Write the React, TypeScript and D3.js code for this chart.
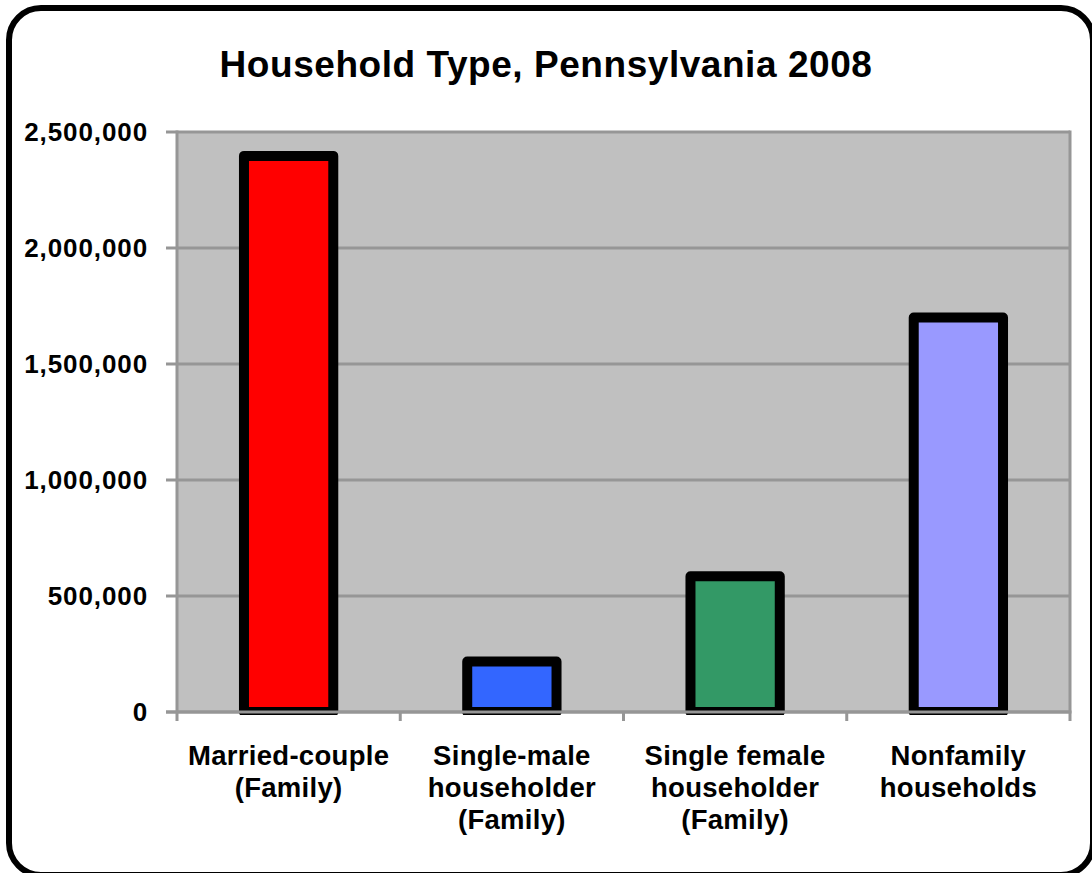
import React from "react";
import * as d3 from "d3";

const TITLE = "Household Type, Pennsylvania 2008";
const categories: string[][] = [
  ["Married-couple", "(Family)"],
  ["Single-male", "householder", "(Family)"],
  ["Single female", "householder", "(Family)"],
  ["Nonfamily", "households"],
];
const values: number[] = [2397000, 218000, 585000, 1700000];
const barColors: string[] = ["#FF0000", "#3366FF", "#339966", "#9999FF"];
const yTicks: number[] = [0, 500000, 1000000, 1500000, 2000000, 2500000];

const W = 1092;
const H = 873;
const plot = { left: 177, right: 1070, top: 132, bottom: 712 };

export default function App() {
  const x = d3
    .scaleBand<number>()
    .domain(categories.map((_, i) => i))
    .range([plot.left, plot.right])
    .paddingInner(0.6)
    .paddingOuter(0.3);
  const band = (plot.right - plot.left) / categories.length;
  const y = d3.scaleLinear().domain([0, 2500000]).range([plot.bottom, plot.top]);
  const fmt = d3.format(",");
  const grid = "#969696";
  const font = "'Liberation Sans', Arial, sans-serif";

  return (
    <div style={{ position: "absolute", left: 0, top: 0 }}>
      <svg width={W} height={H} style={{ display: "block", overflow: "hidden" }}>
        <defs>
          <clipPath id="plotclip">
            <rect x={plot.left} y={0} width={plot.right - plot.left} height={plot.bottom + 3} />
          </clipPath>
        </defs>
        <rect x={0} y={0} width={W} height={H} fill="#ffffff" />
        <rect
          x={9}
          y={8}
          width={1084}
          height={867}
          rx={32}
          ry={32}
          fill="#ffffff"
          stroke="#000000"
          strokeWidth={6}
        />
        <text
          x={546}
          y={77}
          textAnchor="middle"
          fontFamily={font}
          fontWeight="bold"
          fontSize={37}
          letterSpacing={0.55}
          fill="#000"
        >
          {TITLE}
        </text>
        {/* plot area */}
        <rect
          x={plot.left}
          y={plot.top}
          width={plot.right - plot.left}
          height={plot.bottom - plot.top}
          fill="#C0C0C0"
        />
        {yTicks.map((t) => (
          <g key={t}>
            <line x1={166} x2={plot.right} y1={y(t)} y2={y(t)} stroke={grid} strokeWidth={3} />
            <text
              x={148}
              y={y(t) + 9}
              textAnchor="end"
              fontFamily={font}
              fontWeight="bold"
              fontSize={26}
              letterSpacing={0.9}
              fill="#000"
            >
              {fmt(t)}
            </text>
          </g>
        ))}
        <line x1={plot.left} x2={plot.left} y1={plot.top - 1.5} y2={plot.bottom + 9} stroke={grid} strokeWidth={3} />
        <line x1={plot.right} x2={plot.right} y1={plot.top - 1.5} y2={plot.bottom + 9} stroke={grid} strokeWidth={3} />
        {categories.map((_, i) =>
          i > 0 ? (
            <line
              key={"t" + i}
              x1={plot.left + band * i}
              x2={plot.left + band * i}
              y1={plot.bottom}
              y2={plot.bottom + 9}
              stroke={grid}
              strokeWidth={3}
            />
          ) : null
        )}
        <g clipPath="url(#plotclip)">
          {values.map((v, i) => (
            <rect
              key={i}
              x={x(i)!}
              y={y(v)}
              width={x.bandwidth()}
              height={plot.bottom - y(v)}
              fill={barColors[i]}
              stroke="#000"
              strokeWidth={10}
              strokeLinejoin="round"
            />
          ))}
        </g>
        <line x1={166} x2={plot.right + 1.5} y1={plot.bottom} y2={plot.bottom} stroke={grid} strokeWidth={3} />
        {categories.map((lines, i) => (
          <text
            key={"c" + i}
            textAnchor="middle"
            fontFamily={font}
            fontWeight="bold"
            fontSize={27.5}
            letterSpacing={0.3}
            fill="#000"
          >
            {lines.map((ln, j) => (
              <tspan key={j} x={x(i)! + x.bandwidth() / 2} y={765 + j * 32}>
                {ln}
              </tspan>
            ))}
          </text>
        ))}
      </svg>
    </div>
  );
}
